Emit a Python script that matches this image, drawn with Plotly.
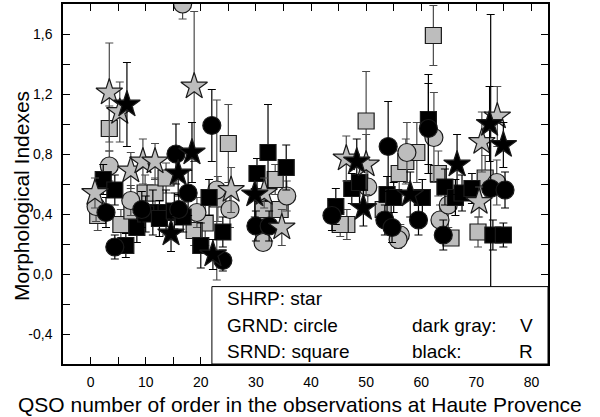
import plotly.graph_objects as go

# ---- data ----
# SHRP: star, V (gray)
star_v_x = [3.4, 5.3, 18.8, 0.8, 7.3, 9.5, 11.7, 25.5, 31.5, 34.7, 46.4, 50.0, 71.0, 73.8, 70.5]
star_v_y = [1.21, 1.08, 1.25, 0.54, 0.69, 0.75, 0.75, 0.56, 0.54, 0.31, 0.77, 0.73, 0.88, 1.05, 0.48]
star_v_e = [0.33, 0.20, 0.50, 0.10, 0.12, 0.15, 0.12, 0.15, 0.10, 0.12, 0.15, 0.20, 0.20, 0.20, 0.10]
# SHRP: star, R (black)
star_r_x = [6.6, 18.4, 15.9, 14.6, 22.2, 29.8, 48.3, 49.5, 58.0, 66.5, 72.4, 74.9]
star_r_y = [1.13, 0.81, 0.67, 0.27, 0.13, 0.53, 0.75, 0.44, 0.53, 0.73, 1.00, 0.86]
star_r_e = [0.28, 0.20, 0.15, 0.12, 0.10, 0.15, 0.15, 0.12, 0.15, 0.20, 0.25, 0.15]
# GRND: circle, V (gray)
circ_v_x = [16.7, 3.4, 1.0, 7.3, 22.9, 25.3, 19.3, 35.6, 31.3, 50.3, 57.4, 62.3, 56.2, 63.4, 64.9, 73.7, 55.8]
circ_v_y = [1.80, 0.72, 0.45, 0.49, 0.56, 0.43, 0.41, 0.52, 0.21, 0.58, 0.81, 0.91, 0.26, 0.36, 0.46, 0.61, 0.23]
circ_v_e = [0.10, 0.10, 0.10, 0.10, 0.60, 0.12, 0.10, 0.10, 0.05, 0.12, 0.20, 0.30, 0.07, 0.10, 0.15, 0.15, 0.06]
# GRND: circle, R (black)
circ_r_x = [22.0, 15.5, 17.7, 4.4, 2.8, 24.0, 30.0, 32.4, 43.8, 54.0, 61.3, 53.4, 54.7, 59.5, 64.0, 72.6, 75.2, 9.3, 16.0]
circ_r_y = [0.99, 0.80, 0.54, 0.18, 0.41, 0.09, 0.32, 0.32, 0.39, 0.85, 0.97, 0.36, 0.31, 0.36, 0.26, 0.57, 0.56, 0.43, 0.43]
circ_r_e = [0.24, 0.20, 0.15, 0.08, 0.10, 0.07, 0.10, 0.10, 0.10, 0.30, 0.30, 0.10, 0.10, 0.10, 0.10, 1.16, 0.12, 0.12, 0.10]
# SRND: square, V (gray)
sq_v_x = [3.4, 25.0, 1.3, 5.5, 7.5, 9.9, 11.7, 13.7, 23.1, 20.8, 18.8, 33.5, 31.3, 34.4, 50.0, 46.5, 45.3,
          53.1, 56.0, 57.2, 59.2, 63.1, 65.4, 71.6, 70.3, 62.2]
sq_v_y = [0.97, 0.87, 0.39, 0.33, 0.42, 0.54, 0.54, 0.64, 0.50, 0.34, 0.29, 0.63, 0.43, 0.43, 1.02, 0.33, 0.33,
          0.43, 0.67, 0.75, 0.81, 0.67, 0.24, 0.64, 0.28, 1.59]
sq_v_e = [0.15, 0.26, 0.10, 0.10, 0.10, 0.12, 0.10, 0.10, 0.15, 0.15, 0.10, 0.10, 0.12, 0.10, 0.33, 0.10, 0.08,
          0.12, 0.15, 0.15, 0.20, 0.15, 0.05, 0.15, 0.10, 0.20]
# SRND: square, R (black)
sq_r_x = [2.3, 4.4, 8.4, 6.4, 11.3, 13.7, 21.5, 24.0, 20.0, 32.2, 30.2, 35.5, 44.5, 47.4, 48.8, 61.3,
          53.8, 55.0, 60.2, 64.3, 66.2, 67.4, 69.2, 73.0, 74.9, 10.0, 12.5, 15.2, 16.8]
sq_r_y = [0.63, 0.56, 0.31, 0.19, 0.41, 0.41, 0.51, 0.28, 0.19, 0.81, 0.67, 0.71, 0.45, 0.57, 0.61, 1.03,
          0.53, 0.51, 0.51, 0.58, 0.51, 0.54, 0.57, 0.26, 0.26, 0.40, 0.37, 0.42, 0.38]
sq_r_e = [0.10, 0.10, 0.10, 0.08, 0.15, 0.15, 0.12, 0.10, 0.15, 0.32, 0.10, 0.15, 0.12, 0.10, 0.15, 0.30,
          0.12, 0.10, 0.12, 0.12, 0.12, 0.12, 0.10, 0.10, 0.08, 0.12, 0.12, 0.12, 0.10]

y_tick_vals = [-0.4, 0.0, 0.4, 0.8, 1.2, 1.6]
y_tick_text = ["-0,4", "0,0", "0,4", "0,8", "1,2", "1,6"]

GRAY = "#bdbdbd"
EDGE = "#1a1a1a"

fig = go.Figure()


def add(xs, ys, es, symbol, size, fill, barcol):
    fig.add_trace(go.Scatter(
        x=xs, y=ys, mode="markers",
        marker=dict(symbol=symbol, size=size, color=fill, line=dict(color=EDGE, width=1.2)),
        error_y=dict(type="data", array=es, visible=True, color=barcol, thickness=1.2, width=4),
        showlegend=False, hoverinfo="skip"))


add(sq_v_x, sq_v_y, sq_v_e, "square", 16, GRAY, "#4a4a4a")
add(circ_v_x, circ_v_y, circ_v_e, "circle", 18, GRAY, "#4a4a4a")
add(sq_r_x, sq_r_y, sq_r_e, "square", 16, "black", "black")
add(circ_r_x, circ_r_y, circ_r_e, "circle", 18, "black", "black")
add(star_v_x, star_v_y, star_v_e, "star", 20, GRAY, "#4a4a4a")
add(star_r_x, star_r_y, star_r_e, "star", 20, "black", "black")

FONT = "Liberation Sans, Arial, sans-serif"

fig.update_layout(
    width=600, height=417,
    margin=dict(l=63, r=52, t=4, b=53, autoexpand=False),
    paper_bgcolor="white", plot_bgcolor="white",
    font=dict(family=FONT, color="black"),
    xaxis=dict(range=[-5, 83], tickvals=[0, 10, 20, 30, 40, 50, 60, 70, 80],
               ticks="inside", ticklen=7, tickwidth=1, tickcolor="black",
               minor=dict(dtick=5, tick0=0, ticks="inside", ticklen=7, tickcolor="black"),
               showline=True, linecolor="black", linewidth=1.5, mirror="ticks",
               showgrid=False, zeroline=False, tickfont=dict(size=14, family=FONT),
               ticklabelstandoff=4, automargin=False),
    yaxis=dict(range=[-0.6, 1.8], tickvals=y_tick_vals, ticktext=y_tick_text,
               ticks="inside", ticklen=7, tickwidth=1, tickcolor="black",
               minor=dict(dtick=0.2, tick0=0, ticks="inside", ticklen=7, tickcolor="black"),
               showline=True, linecolor="black", linewidth=1.5, mirror="ticks",
               showgrid=False, zeroline=False, tickfont=dict(size=14, family=FONT),
               ticklabelstandoff=6, automargin=False),
)

# legend box (drawn above the data)
fig.add_shape(type="rect", xref="paper", yref="paper", x0=0.307, x1=1.0, y0=0.0, y1=0.215,
              fillcolor="white", line=dict(color="black", width=1), layer="above")

legend_rows = [("SHRP: star", None, None), ("GRND: circle", "dark gray:", "V"), ("SRND: square", "black:", "R")]
row_y = [298, 325, 351]
for (left, mid, right), py in zip(legend_rows, row_y):
    yp = (364 - py) / 360
    fig.add_annotation(xref="paper", yref="paper", x=(225 - 63) / 485, y=yp, text=left,
                       showarrow=False, xanchor="left", yanchor="middle",
                       font=dict(size=19, family=FONT, color="black"))
    if mid:
        fig.add_annotation(xref="paper", yref="paper", x=(410 - 63) / 485, y=yp, text=mid,
                           showarrow=False, xanchor="left", yanchor="middle",
                           font=dict(size=19, family=FONT, color="black"))
        fig.add_annotation(xref="paper", yref="paper", x=(535 - 63) / 485, y=yp, text=right,
                           showarrow=False, xanchor="right", yanchor="middle",
                           font=dict(size=19, family=FONT, color="black"))

# axis titles
fig.add_annotation(xref="paper", yref="paper", x=(300 - 63) / 485, y=(364 - 404) / 360,
                   text="QSO number of order in the observations at Haute Provence",
                   showarrow=False, xanchor="center", yanchor="middle",
                   font=dict(size=21, family=FONT, color="black"))
fig.add_annotation(xref="paper", yref="paper", x=(21 - 63) / 485, y=(364 - 196) / 360,
                   text="Morphological Indexes", textangle=-90,
                   showarrow=False, xanchor="center", yanchor="middle",
                   font=dict(size=21, family=FONT, color="black"))

fig.write_html("out.html", config={"displayModeBar": False},
               post_script="document.body.style.margin='0';document.body.style.overflow='hidden';")
